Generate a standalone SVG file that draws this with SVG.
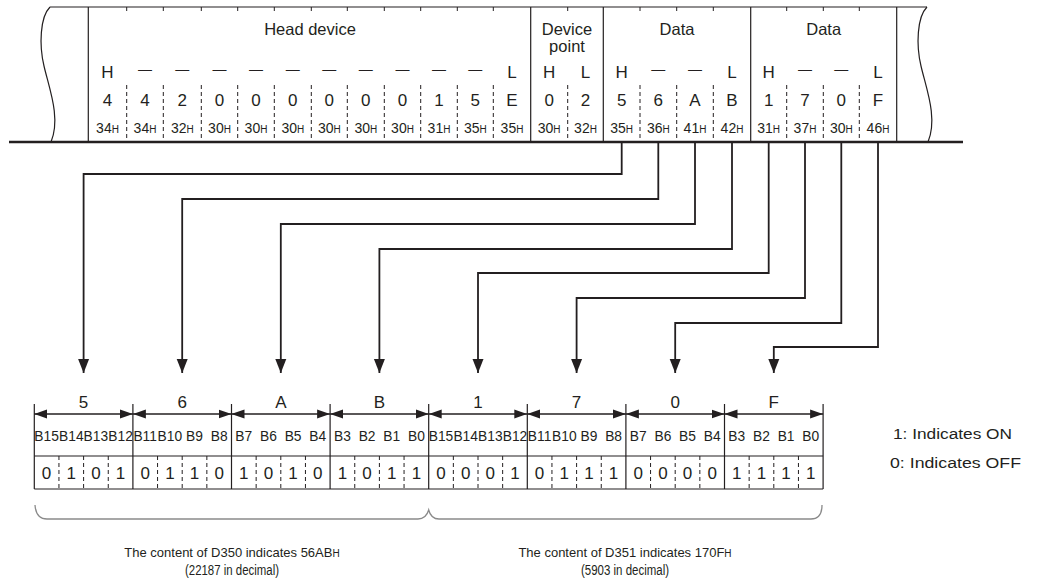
<svg xmlns="http://www.w3.org/2000/svg" width="1038" height="582" viewBox="0 0 1038 582">
<style>
text{font-family:"Liberation Sans",Arial,sans-serif;fill:#231f20;text-anchor:middle}
.h{font-size:16.5px}
.r{font-size:17px}
.x{font-size:14px}
.s{font-size:10px}
.b{font-size:13.8px}
.t{font-size:14px}
.c{font-size:13px}
.st{text-anchor:start}
.ln{stroke:#231f20;stroke-width:1.2;fill:none}
.ds{stroke:#231f20;stroke-width:1;stroke-dasharray:4 3;fill:none}
.cn{stroke:#231f20;stroke-width:1.8;fill:none}
.br{stroke:#8a8a8a;stroke-width:1.3;fill:none}
</style>
<defs>
<marker id="ah" markerUnits="userSpaceOnUse" markerWidth="14" markerHeight="12" viewBox="0 0 14 12" refX="14" refY="6" orient="auto"><path d="M0,0.5 L14,6 L0,11.5 Z" fill="#231f20"/></marker>
<marker id="dh" markerUnits="userSpaceOnUse" markerWidth="13" markerHeight="10" viewBox="0 0 13 10" refX="13" refY="5" orient="auto-start-reverse"><path d="M0,0.5 L13,5 L0,9.5 Z" fill="#231f20"/></marker>
</defs>

<g id="frame">
<line class="ln" x1="50" y1="7" x2="927" y2="7"/>
<path class="ln" stroke-width="1" d="M50,7 C40,17 39,45 44,66 C49,88 61,118 51,142"/>
<path class="ln" stroke-width="1" d="M927,7 C917,17 916,45 921,66 C926,88 938,118 928,142"/>
<line x1="9" y1="142" x2="963" y2="142" stroke="#231f20" stroke-width="2.6"/>
<g class="ln">
<line x1="88.3" y1="7" x2="88.3" y2="142"/>
<line x1="530.7" y1="7" x2="530.7" y2="142"/>
<line x1="603.3" y1="7" x2="603.3" y2="142"/>
<line x1="750.7" y1="7" x2="750.7" y2="142"/>
<line x1="896.7" y1="7" x2="896.7" y2="142"/>
</g>
<path class="ds" d="M126.7,7V13M126.7,85V142M163.3,7V13M163.3,85V142M201.3,7V13M201.3,85V142M237.7,7V13M237.7,85V142M274.3,7V13M274.3,85V142M311.3,7V13M311.3,85V142M347.3,7V13M347.3,85V142M384.3,7V13M384.3,85V142M420.7,7V13M420.7,85V142M457.3,7V13M457.3,85V142M493.3,7V13M493.3,85V142M567.7,7V13M567.7,85V142M640,7V13M640,85V142M676.7,7V13M676.7,85V142M713.3,7V13M713.3,85V142M786.7,7V13M786.7,85V142M823.3,7V13M823.3,85V142M859.3,7V13M859.3,85V142"/>
</g>

<g id="head-device">
<text class="h" x="310" y="35">Head device</text>
<text class="r" x="107.5" y="78">H</text>
<text class="t" x="145" y="74">—</text><text class="t" x="182.3" y="74">—</text><text class="t" x="219.5" y="74">—</text><text class="t" x="256" y="74">—</text><text class="t" x="292.8" y="74">—</text><text class="t" x="329.3" y="74">—</text><text class="t" x="365.8" y="74">—</text><text class="t" x="402.5" y="74">—</text><text class="t" x="439" y="74">—</text><text class="t" x="475.3" y="74">—</text>
<text class="r" x="512" y="78">L</text>
<text class="r" x="107.5" y="106">4</text><text class="r" x="145" y="106">4</text><text class="r" x="182.3" y="106">2</text><text class="r" x="219.5" y="106">0</text><text class="r" x="256" y="106">0</text><text class="r" x="292.8" y="106">0</text><text class="r" x="329.3" y="106">0</text><text class="r" x="365.8" y="106">0</text><text class="r" x="402.5" y="106">0</text><text class="r" x="439" y="106">1</text><text class="r" x="475.3" y="106">5</text><text class="r" x="512" y="106">E</text>
<text class="x" x="107.5" y="133">34<tspan class="s">H</tspan></text><text class="x" x="145" y="133">34<tspan class="s">H</tspan></text><text class="x" x="182.3" y="133">32<tspan class="s">H</tspan></text><text class="x" x="219.5" y="133">30<tspan class="s">H</tspan></text><text class="x" x="256" y="133">30<tspan class="s">H</tspan></text><text class="x" x="292.8" y="133">30<tspan class="s">H</tspan></text><text class="x" x="329.3" y="133">30<tspan class="s">H</tspan></text><text class="x" x="365.8" y="133">30<tspan class="s">H</tspan></text><text class="x" x="402.5" y="133">30<tspan class="s">H</tspan></text><text class="x" x="439" y="133">31<tspan class="s">H</tspan></text><text class="x" x="475.3" y="133">35<tspan class="s">H</tspan></text><text class="x" x="512" y="133">35<tspan class="s">H</tspan></text>
</g>

<g id="device-point">
<text class="h" x="567" y="35">Device</text>
<text class="h" x="567" y="52">point</text>
<text class="r" x="549.2" y="78">H</text><text class="r" x="585.5" y="78">L</text>
<text class="r" x="549.2" y="106">0</text><text class="r" x="585.5" y="106">2</text>
<text class="x" x="549.2" y="133">30<tspan class="s">H</tspan></text><text class="x" x="585.5" y="133">32<tspan class="s">H</tspan></text>
</g>

<g id="data-1">
<text class="h" x="677" y="35">Data</text>
<text class="r" x="621.7" y="78">H</text><text class="t" x="658.3" y="74">—</text><text class="t" x="695" y="74">—</text><text class="r" x="732" y="78">L</text>
<text class="r" x="621.7" y="106">5</text><text class="r" x="658.3" y="106">6</text><text class="r" x="695" y="106">A</text><text class="r" x="732" y="106">B</text>
<text class="x" x="621.7" y="133">35<tspan class="s">H</tspan></text><text class="x" x="658.3" y="133">36<tspan class="s">H</tspan></text><text class="x" x="695" y="133">41<tspan class="s">H</tspan></text><text class="x" x="732" y="133">42<tspan class="s">H</tspan></text>
</g>

<g id="data-2">
<text class="h" x="823.7" y="35">Data</text>
<text class="r" x="768.7" y="78">H</text><text class="t" x="805" y="74">—</text><text class="t" x="841.3" y="74">—</text><text class="r" x="878" y="78">L</text>
<text class="r" x="768.7" y="106">1</text><text class="r" x="805" y="106">7</text><text class="r" x="841.3" y="106">0</text><text class="r" x="878" y="106">F</text>
<text class="x" x="768.7" y="133">31<tspan class="s">H</tspan></text><text class="x" x="805" y="133">37<tspan class="s">H</tspan></text><text class="x" x="841.3" y="133">30<tspan class="s">H</tspan></text><text class="x" x="878" y="133">46<tspan class="s">H</tspan></text>
</g>

<g id="connectors" class="cn">
<path d="M621.7,142V174H83.6V373" marker-end="url(#ah)"/>
<path d="M658.3,142V199H182.2V373" marker-end="url(#ah)"/>
<path d="M695,142V224H280.8V373" marker-end="url(#ah)"/>
<path d="M732,142V249H379.4V373" marker-end="url(#ah)"/>
<path d="M768.7,142V273H478V373" marker-end="url(#ah)"/>
<path d="M805,142V298H576.6V373" marker-end="url(#ah)"/>
<path d="M841.3,142V323H675.2V373" marker-end="url(#ah)"/>
<path d="M878,142V347H773.8V373" marker-end="url(#ah)"/>
</g>

<g id="bit-table">
<g class="ln">
<line x1="34.3" y1="404" x2="34.3" y2="489"/>
<line x1="132.9" y1="404" x2="132.9" y2="489"/>
<line x1="231.5" y1="404" x2="231.5" y2="489"/>
<line x1="330.1" y1="404" x2="330.1" y2="489"/>
<line x1="428.7" y1="404" x2="428.7" y2="489"/>
<line x1="527.3" y1="404" x2="527.3" y2="489"/>
<line x1="625.9" y1="404" x2="625.9" y2="489"/>
<line x1="724.5" y1="404" x2="724.5" y2="489"/>
<line x1="823.1" y1="404" x2="823.1" y2="489"/>
<line x1="34.3" y1="456" x2="823.1" y2="456"/>
<line x1="34.3" y1="489" x2="823.1" y2="489"/>
</g>
<g stroke="#231f20" stroke-width="1.4">
<line x1="34.3" y1="414" x2="132.9" y2="414" marker-start="url(#dh)" marker-end="url(#dh)"/>
<line x1="132.9" y1="414" x2="231.5" y2="414" marker-start="url(#dh)" marker-end="url(#dh)"/>
<line x1="231.5" y1="414" x2="330.1" y2="414" marker-start="url(#dh)" marker-end="url(#dh)"/>
<line x1="330.1" y1="414" x2="428.7" y2="414" marker-start="url(#dh)" marker-end="url(#dh)"/>
<line x1="428.7" y1="414" x2="527.3" y2="414" marker-start="url(#dh)" marker-end="url(#dh)"/>
<line x1="527.3" y1="414" x2="625.9" y2="414" marker-start="url(#dh)" marker-end="url(#dh)"/>
<line x1="625.9" y1="414" x2="724.5" y2="414" marker-start="url(#dh)" marker-end="url(#dh)"/>
<line x1="724.5" y1="414" x2="823.1" y2="414" marker-start="url(#dh)" marker-end="url(#dh)"/>
</g>
<path class="ds" stroke-dasharray="5 4" d="M58.95,456V489M83.6,456V489M108.25,456V489M157.55,456V489M182.2,456V489M206.85,456V489M256.15,456V489M280.8,456V489M305.45,456V489M354.75,456V489M379.4,456V489M404.05,456V489M453.35,456V489M478,456V489M502.65,456V489M551.95,456V489M576.6,456V489M601.25,456V489M650.55,456V489M675.2,456V489M699.85,456V489M749.15,456V489M773.8,456V489M798.45,456V489"/>
<text class="r" x="83.6" y="408">5</text><text class="r" x="182.2" y="408">6</text><text class="r" x="280.8" y="408">A</text><text class="r" x="379.4" y="408">B</text><text class="r" x="478" y="408">1</text><text class="r" x="576.6" y="408">7</text><text class="r" x="675.2" y="408">0</text><text class="r" x="773.8" y="408">F</text>
<text class="b" x="46.6" y="441">B15</text><text class="b" x="71.3" y="441">B14</text><text class="b" x="95.9" y="441">B13</text><text class="b" x="120.6" y="441">B12</text>
<text class="b" x="145.2" y="441">B11</text><text class="b" x="169.9" y="441">B10</text><text class="b" x="194.5" y="441">B9</text><text class="b" x="219.2" y="441">B8</text>
<text class="b" x="243.8" y="441">B7</text><text class="b" x="268.5" y="441">B6</text><text class="b" x="293.1" y="441">B5</text><text class="b" x="317.8" y="441">B4</text>
<text class="b" x="342.4" y="441">B3</text><text class="b" x="367.1" y="441">B2</text><text class="b" x="391.7" y="441">B1</text><text class="b" x="416.4" y="441">B0</text>
<text class="b" x="441" y="441">B15</text><text class="b" x="465.7" y="441">B14</text><text class="b" x="490.3" y="441">B13</text><text class="b" x="515" y="441">B12</text>
<text class="b" x="539.6" y="441">B11</text><text class="b" x="564.3" y="441">B10</text><text class="b" x="588.9" y="441">B9</text><text class="b" x="613.6" y="441">B8</text>
<text class="b" x="638.2" y="441">B7</text><text class="b" x="662.9" y="441">B6</text><text class="b" x="687.5" y="441">B5</text><text class="b" x="712.2" y="441">B4</text>
<text class="b" x="736.8" y="441">B3</text><text class="b" x="761.5" y="441">B2</text><text class="b" x="786.1" y="441">B1</text><text class="b" x="810.8" y="441">B0</text>
<text class="r" x="46.6" y="479">0</text><text class="r" x="71.3" y="479">1</text><text class="r" x="95.9" y="479">0</text><text class="r" x="120.6" y="479">1</text>
<text class="r" x="145.2" y="479">0</text><text class="r" x="169.9" y="479">1</text><text class="r" x="194.5" y="479">1</text><text class="r" x="219.2" y="479">0</text>
<text class="r" x="243.8" y="479">1</text><text class="r" x="268.5" y="479">0</text><text class="r" x="293.1" y="479">1</text><text class="r" x="317.8" y="479">0</text>
<text class="r" x="342.4" y="479">1</text><text class="r" x="367.1" y="479">0</text><text class="r" x="391.7" y="479">1</text><text class="r" x="416.4" y="479">1</text>
<text class="r" x="441" y="479">0</text><text class="r" x="465.7" y="479">0</text><text class="r" x="490.3" y="479">0</text><text class="r" x="515" y="479">1</text>
<text class="r" x="539.6" y="479">0</text><text class="r" x="564.3" y="479">1</text><text class="r" x="588.9" y="479">1</text><text class="r" x="613.6" y="479">1</text>
<text class="r" x="638.2" y="479">0</text><text class="r" x="662.9" y="479">0</text><text class="r" x="687.5" y="479">0</text><text class="r" x="712.2" y="479">0</text>
<text class="r" x="736.8" y="479">1</text><text class="r" x="761.5" y="479">1</text><text class="r" x="786.1" y="479">1</text><text class="r" x="810.8" y="479">1</text>
</g>

<g id="braces">
<path class="br" d="M35,505 Q36,519 47,519 H418 Q426,519 428.7,510 Q431,519 439,519 H811 Q822,519 822,505"/>
</g>

<g id="captions">
<text class="c" x="232" y="557">The content of D350 indicates 56AB<tspan font-size="10">H</tspan></text>
<text class="t" x="232" y="575" textLength="94" lengthAdjust="spacingAndGlyphs">(22187 in decimal)</text>
<text class="c" x="625" y="557">The content of D351 indicates 170F<tspan font-size="10">H</tspan></text>
<text class="t" x="625" y="575" textLength="88" lengthAdjust="spacingAndGlyphs">(5903 in decimal)</text>
</g>

<g id="legend">
<text class="t st" x="893" y="439" textLength="119" lengthAdjust="spacingAndGlyphs">1: Indicates ON</text>
<text class="t st" x="890" y="468" textLength="131" lengthAdjust="spacingAndGlyphs">0: Indicates OFF</text>
</g>
</svg>
